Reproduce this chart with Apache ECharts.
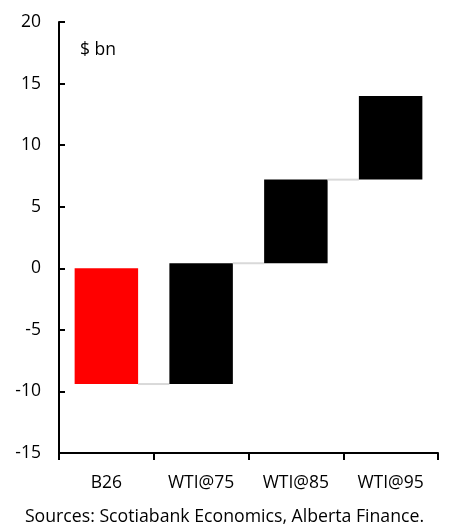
<!DOCTYPE html>
<html>
<head>
<meta charset="utf-8">
<script src="https://cdn.jsdelivr.net/npm/echarts@6/dist/echarts.min.js"></script>
<style>
  html, body { margin: 0; padding: 0; background: #fff; }
  #chart { width: 449px; height: 529px; }
</style>
</head>
<body>
<div id="chart"></div>
<script>
// waterfall: each bar runs from start to end
const categories = ["B26", "WTI@75", "WTI@85", "WTI@95"];
const barStart = [0, -9.4, 0.4, 7.2];
const barEnd = [-9.4, 0.4, 7.2, 14.0];
const barColors = ["#ff0000", "#000000", "#000000", "#000000"];
const yTicks = { min: -15, max: 20, interval: 5 };

const font = "Open Sans";
const fs = 17.5;
const chart = echarts.init(document.getElementById("chart"), null, { renderer: "canvas" });

const data = categories.map((c, i) => [i, barStart[i], barEnd[i]]);

chart.setOption({
  animation: false,
  grid: { left: 59, right: 11, top: 22, bottom: 76 },
  title: {
    text: "$ bn", left: 75, top: 36,
    textStyle: { fontFamily: font, fontSize: fs, fontWeight: "normal", color: "#000" }
  },
  graphic: [{
    type: "text", left: "center", top: 508,
    style: { text: "Sources: Scotiabank Economics, Alberta Finance.", font: "17.7px " + font, fill: "#000" }
  }],
  xAxis: {
    type: "category", data: categories,
    axisLine: { onZero: false, lineStyle: { color: "#000", width: 2 } },
    axisTick: { show: true, length: 7, lineStyle: { color: "#000", width: 2 } },
    axisLabel: { color: "#000", fontFamily: font, fontSize: fs, margin: 21 },
    splitLine: { show: false }
  },
  yAxis: {
    type: "value", min: yTicks.min, max: yTicks.max, interval: yTicks.interval,
    axisLine: { show: true, onZero: false, lineStyle: { color: "#000", width: 2 } },
    axisTick: { show: true, inside: true, length: 6, lineStyle: { color: "#000", width: 2 } },
    axisLabel: { color: "#000", fontFamily: font, fontSize: fs, margin: 18 },
    splitLine: { show: false }
  },
  series: [{
    type: "custom",
    data: data,
    encode: { x: 0, y: [1, 2] },
    renderItem: function (params, api) {
      const i = api.value(0);
      const band = api.size([1, 0])[0];
      const w = band * 0.67;
      const p0 = api.coord([i, api.value(1)]);
      const p1 = api.coord([i, api.value(2)]);
      const children = [{
        type: "rect",
        shape: { x: p0[0] - w / 2, y: Math.min(p0[1], p1[1]), width: w, height: Math.abs(p1[1] - p0[1]) },
        style: { fill: barColors[i] }
      }];
      if (i < categories.length - 1) {
        const q = api.coord([i + 1, api.value(2)]);
        children.push({
          type: "line",
          shape: { x1: p1[0] + w / 2, y1: p1[1], x2: q[0] - w / 2, y2: q[1] },
          style: { stroke: "#d9d9d9", lineWidth: 2 }
        });
      }
      return { type: "group", children: children };
    }
  }]
});
</script>
</body>
</html>
